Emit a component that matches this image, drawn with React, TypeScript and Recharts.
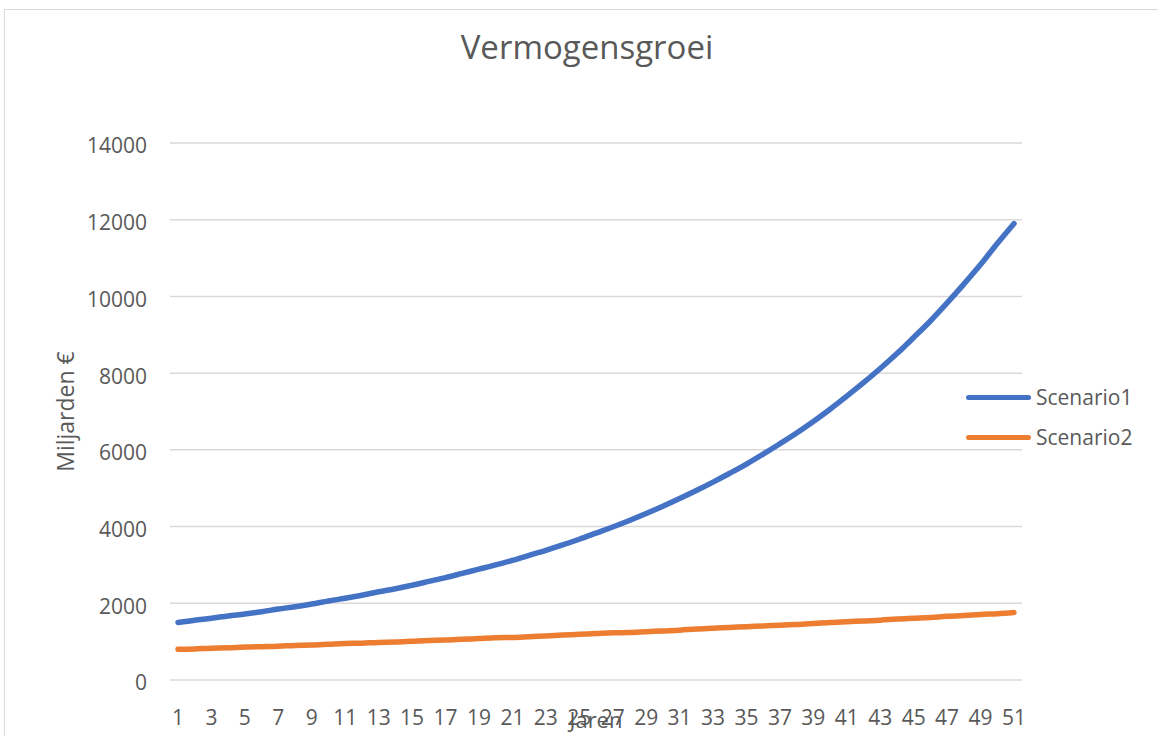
import {
  LineChart,
  Line,
  XAxis,
  YAxis,
  CartesianGrid,
  Legend,
  Label,
} from "recharts";

const years = [
  1, 2, 3, 4, 5, 6, 7, 8, 9, 10, 11, 12, 13, 14, 15, 16, 17, 18, 19, 20,
  21, 22, 23, 24, 25, 26, 27, 28, 29, 30, 31, 32, 33, 34, 35, 36, 37, 38,
  39, 40, 41, 42, 43, 44, 45, 46, 47, 48, 49, 50, 51,
];

const scenario1 = [
  1500, 1560, 1610, 1670, 1720, 1780, 1850, 1910, 1980, 2060, 2130, 2210,
  2300, 2380, 2470, 2570, 2670, 2780, 2890, 3000, 3120, 3250, 3380, 3520,
  3670, 3830, 3990, 4160, 4340, 4530, 4730, 4940, 5160, 5390, 5630, 5890,
  6160, 6440, 6740, 7060, 7400, 7750, 8120, 8510, 8930, 9360, 9830, 10320,
  10830, 11380, 11900,
];

const scenario2 = [
  800, 810, 830, 840, 860, 870, 880, 900, 910, 930, 950, 960, 980, 990,
  1010, 1030, 1040, 1060, 1080, 1100, 1110, 1130, 1150, 1170, 1190, 1210,
  1230, 1240, 1260, 1280, 1300, 1330, 1350, 1370, 1390, 1410, 1430, 1450,
  1470, 1500, 1520, 1540, 1560, 1590, 1610, 1630, 1660, 1680, 1710, 1730,
  1760,
];

const yTicks = [0, 2000, 4000, 6000, 8000, 10000, 12000, 14000];

const data = years.map((year, i) => ({
  year,
  Scenario1: scenario1[i],
  Scenario2: scenario2[i],
}));

const TEXT = "#595959";
const FONT = "'Open Sans', sans-serif";

const LegendBox = ({ payload }: any) => (
  <div>
    {(payload || []).map((item: any) => (
      <div
        key={item.value}
        style={{
          display: "flex",
          alignItems: "center",
          height: 40,
        }}
      >
        <div
          style={{
            width: 65,
            height: 5,
            borderRadius: 3,
            background: item.color,
            marginRight: 5,
          }}
        />
        <span style={{ fontSize: 21, color: TEXT, fontFamily: FONT }}>
          {item.value}
        </span>
      </div>
    ))}
  </div>
);

const App = () => {
  return (
    <div
      style={{
        position: "absolute",
        left: 0,
        top: 0,
        width: 1158,
        height: 736,
        background: "#fff",
        overflow: "hidden",
        fontFamily: FONT,
      }}
    >
      <div
        style={{
          position: "absolute",
          left: 4,
          top: 9,
          width: 1180,
          height: 760,
          border: "1px solid #d9d9d9",
        }}
      />

      <div
        style={{
          position: "absolute",
          left: 387,
          width: 400,
          top: 31,
          textAlign: "center",
          fontSize: 33,
          lineHeight: "32px",
          color: TEXT,
        }}
      >
        Vermogensgroei
      </div>

      <div style={{ position: "absolute", left: 0, top: 0 }}>
        <LineChart
          width={1158}
          height={736}
          data={data}
          margin={{ top: 143, right: 136, bottom: 0, left: 0 }}
        >
          <CartesianGrid
            vertical={false}
            stroke="#d9d9d9"
            strokeWidth={1.5}
          />

          <XAxis
            dataKey="year"
            interval={1}
            height={56}
            padding={{ left: 8, right: 8 }}
            axisLine={false}
            tickLine={false}
            tickSize={0}
            tickMargin={30}
            tick={{ fill: TEXT, fontSize: 21 }}
          >
            <Label
              content={({ viewBox }: any) => (
                <text
                  x={viewBox.x + viewBox.width / 2}
                  y={728}
                  textAnchor="middle"
                  fill={TEXT}
                  fontSize={22}
                >
                  Jaren
                </text>
              )}
            />
          </XAxis>

          <YAxis
            width={170}
            domain={[0, 14000]}
            ticks={yTicks}
            axisLine={false}
            tickLine={false}
            tickSize={0}
            tickMargin={23}
            tick={{ fill: TEXT, fontSize: 21, dy: 3 }}
          >
            <Label
              content={({ viewBox }: any) => {
                const cy = viewBox.y + viewBox.height / 2;
                return (
                  <text
                    x={74}
                    y={cy}
                    textAnchor="middle"
                    fill={TEXT}
                    fontSize={23}
                    transform={`rotate(-90, 74, ${cy})`}
                  >
                    Miljarden €
                  </text>
                );
              }}
            />
          </YAxis>

          <Legend
            layout="horizontal"
            align="center"
            verticalAlign="middle"
            content={<LegendBox />}
            wrapperStyle={{ left: 966, top: 377, width: 190, height: 80 }}
          />

          <Line
            type="monotone"
            dataKey="Scenario1"
            stroke="#4472C4"
            strokeWidth={5.5}
            strokeLinecap="round"
            dot={false}
            isAnimationActive={false}
          />
          <Line
            type="monotone"
            dataKey="Scenario2"
            stroke="#ED7D31"
            strokeWidth={5.5}
            strokeLinecap="round"
            dot={false}
            isAnimationActive={false}
          />
        </LineChart>
      </div>
    </div>
  );
};

export default App;
